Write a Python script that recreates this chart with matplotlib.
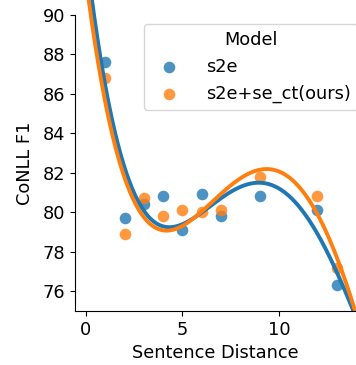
import numpy as np
import matplotlib
matplotlib.use("Agg")
import matplotlib.pyplot as plt
from matplotlib.transforms import Bbox, TransformedBbox

distance = [1, 2, 3, 4, 5, 6, 7, 9, 12, 13]
s2e = [87.6, 79.7, 80.4, 80.8, 79.1, 80.9, 79.8, 80.8, 80.1, 76.3]
ours = [86.8, 78.9, 80.7, 79.8, 80.1, 80.0, 80.1, 81.8, 80.8, 77.2]
labels = ["s2e", "s2e+se_ct(ours)"]
colors = ["#1f77b4", "#ff7f0e"]
FS = 12.8

fig = plt.figure(figsize=(3.56, 3.65), dpi=100)
ax = fig.add_axes([75/356, 1-311/365, 1-75/356, (311-14.7)/365])
xlim = (-0.57, 14.0)
ylim = (75, 90)
xg = np.linspace(xlim[0], xlim[1], 400)
clip = TransformedBbox(Bbox([[xlim[0], ylim[0]], [xlim[1], 200]]), ax.transData)
for ys, lab, c in zip([s2e, ours], labels, colors):
    ax.scatter(distance, ys, s=70, color=c, alpha=0.8, linewidths=0, label=lab)
    coef = np.polyfit(distance, ys, 4)
    ln, = ax.plot(xg, np.polyval(coef, xg), color=c, lw=2.8)
    ln.set_clip_box(clip)

ax.set_xlim(*xlim)
ax.set_ylim(*ylim)
ax.set_yticks([76, 78, 80, 82, 84, 86, 88, 90])
ax.set_xticks([0, 5, 10])
ax.tick_params(labelsize=FS)
ax.set_xlabel("Sentence Distance", fontsize=FS)
ax.set_ylabel("CoNLL F1", fontsize=FS, labelpad=6)
for s in ["top", "right"]:
    ax.spines[s].set_visible(False)
leg = ax.legend(title="Model", fontsize=FS, title_fontsize=FS, loc="upper left",
                bbox_to_anchor=(0.245, 0.97), borderaxespad=0, handletextpad=1.1)
fig.savefig("out.png", dpi=100)
